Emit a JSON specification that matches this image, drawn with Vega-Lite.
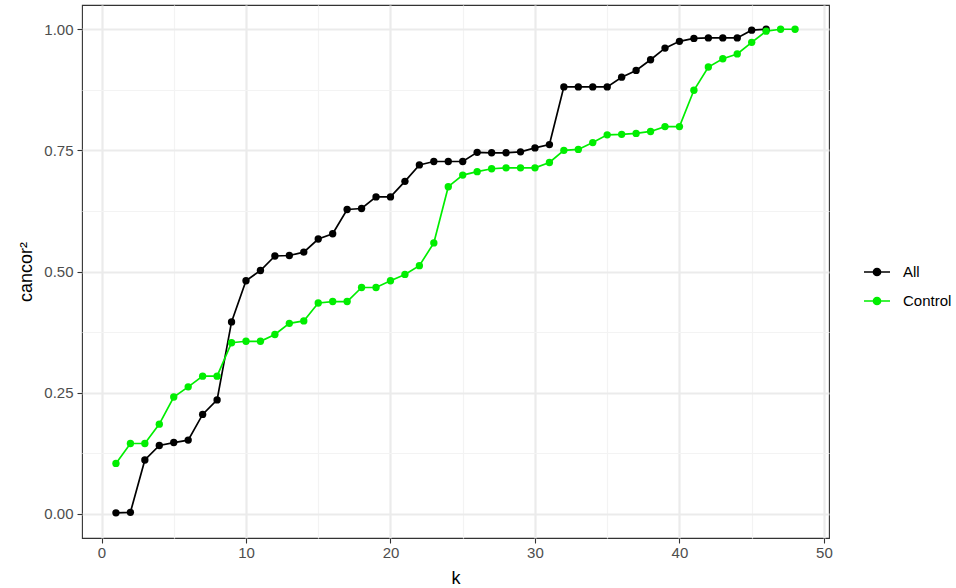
{
  "$schema": "https://vega.github.io/schema/vega-lite/v6.json",
  "width": 747,
  "height": 533,
  "autosize": {"type": "none"},
  "padding": {"left": 82, "top": 5, "right": 127, "bottom": 50},
  "background": "white",
  "config": {
    "font": "Liberation Sans",
    "view": {"stroke": "#333333", "strokeWidth": 1.1}
  },
  "data": {
    "values": [
      {"k": 1, "cancor2": 0.002, "set": "All"},
      {"k": 2, "cancor2": 0.003, "set": "All"},
      {"k": 3, "cancor2": 0.111, "set": "All"},
      {"k": 4, "cancor2": 0.141, "set": "All"},
      {"k": 5, "cancor2": 0.147, "set": "All"},
      {"k": 6, "cancor2": 0.152, "set": "All"},
      {"k": 7, "cancor2": 0.205, "set": "All"},
      {"k": 8, "cancor2": 0.235, "set": "All"},
      {"k": 9, "cancor2": 0.396, "set": "All"},
      {"k": 10, "cancor2": 0.481, "set": "All"},
      {"k": 11, "cancor2": 0.502, "set": "All"},
      {"k": 12, "cancor2": 0.532, "set": "All"},
      {"k": 13, "cancor2": 0.533, "set": "All"},
      {"k": 14, "cancor2": 0.540, "set": "All"},
      {"k": 15, "cancor2": 0.567, "set": "All"},
      {"k": 16, "cancor2": 0.578, "set": "All"},
      {"k": 17, "cancor2": 0.628, "set": "All"},
      {"k": 18, "cancor2": 0.630, "set": "All"},
      {"k": 19, "cancor2": 0.654, "set": "All"},
      {"k": 20, "cancor2": 0.654, "set": "All"},
      {"k": 21, "cancor2": 0.686, "set": "All"},
      {"k": 22, "cancor2": 0.720, "set": "All"},
      {"k": 23, "cancor2": 0.727, "set": "All"},
      {"k": 24, "cancor2": 0.727, "set": "All"},
      {"k": 25, "cancor2": 0.727, "set": "All"},
      {"k": 26, "cancor2": 0.746, "set": "All"},
      {"k": 27, "cancor2": 0.745, "set": "All"},
      {"k": 28, "cancor2": 0.745, "set": "All"},
      {"k": 29, "cancor2": 0.747, "set": "All"},
      {"k": 30, "cancor2": 0.755, "set": "All"},
      {"k": 31, "cancor2": 0.762, "set": "All"},
      {"k": 32, "cancor2": 0.881, "set": "All"},
      {"k": 33, "cancor2": 0.881, "set": "All"},
      {"k": 34, "cancor2": 0.881, "set": "All"},
      {"k": 35, "cancor2": 0.881, "set": "All"},
      {"k": 36, "cancor2": 0.901, "set": "All"},
      {"k": 37, "cancor2": 0.915, "set": "All"},
      {"k": 38, "cancor2": 0.937, "set": "All"},
      {"k": 39, "cancor2": 0.961, "set": "All"},
      {"k": 40, "cancor2": 0.975, "set": "All"},
      {"k": 41, "cancor2": 0.981, "set": "All"},
      {"k": 42, "cancor2": 0.982, "set": "All"},
      {"k": 43, "cancor2": 0.982, "set": "All"},
      {"k": 44, "cancor2": 0.982, "set": "All"},
      {"k": 45, "cancor2": 0.998, "set": "All"},
      {"k": 46, "cancor2": 1.0, "set": "All"},
      {"k": 1, "cancor2": 0.104, "set": "Control"},
      {"k": 2, "cancor2": 0.145, "set": "Control"},
      {"k": 3, "cancor2": 0.145, "set": "Control"},
      {"k": 4, "cancor2": 0.185, "set": "Control"},
      {"k": 5, "cancor2": 0.241, "set": "Control"},
      {"k": 6, "cancor2": 0.262, "set": "Control"},
      {"k": 7, "cancor2": 0.284, "set": "Control"},
      {"k": 8, "cancor2": 0.284, "set": "Control"},
      {"k": 9, "cancor2": 0.353, "set": "Control"},
      {"k": 10, "cancor2": 0.356, "set": "Control"},
      {"k": 11, "cancor2": 0.356, "set": "Control"},
      {"k": 12, "cancor2": 0.370, "set": "Control"},
      {"k": 13, "cancor2": 0.393, "set": "Control"},
      {"k": 14, "cancor2": 0.398, "set": "Control"},
      {"k": 15, "cancor2": 0.435, "set": "Control"},
      {"k": 16, "cancor2": 0.438, "set": "Control"},
      {"k": 17, "cancor2": 0.438, "set": "Control"},
      {"k": 18, "cancor2": 0.467, "set": "Control"},
      {"k": 19, "cancor2": 0.467, "set": "Control"},
      {"k": 20, "cancor2": 0.481, "set": "Control"},
      {"k": 21, "cancor2": 0.494, "set": "Control"},
      {"k": 22, "cancor2": 0.512, "set": "Control"},
      {"k": 23, "cancor2": 0.559, "set": "Control"},
      {"k": 24, "cancor2": 0.675, "set": "Control"},
      {"k": 25, "cancor2": 0.699, "set": "Control"},
      {"k": 26, "cancor2": 0.706, "set": "Control"},
      {"k": 27, "cancor2": 0.712, "set": "Control"},
      {"k": 28, "cancor2": 0.714, "set": "Control"},
      {"k": 29, "cancor2": 0.714, "set": "Control"},
      {"k": 30, "cancor2": 0.714, "set": "Control"},
      {"k": 31, "cancor2": 0.725, "set": "Control"},
      {"k": 32, "cancor2": 0.750, "set": "Control"},
      {"k": 33, "cancor2": 0.752, "set": "Control"},
      {"k": 34, "cancor2": 0.766, "set": "Control"},
      {"k": 35, "cancor2": 0.782, "set": "Control"},
      {"k": 36, "cancor2": 0.783, "set": "Control"},
      {"k": 37, "cancor2": 0.785, "set": "Control"},
      {"k": 38, "cancor2": 0.789, "set": "Control"},
      {"k": 39, "cancor2": 0.799, "set": "Control"},
      {"k": 40, "cancor2": 0.799, "set": "Control"},
      {"k": 41, "cancor2": 0.874, "set": "Control"},
      {"k": 42, "cancor2": 0.922, "set": "Control"},
      {"k": 43, "cancor2": 0.939, "set": "Control"},
      {"k": 44, "cancor2": 0.949, "set": "Control"},
      {"k": 45, "cancor2": 0.973, "set": "Control"},
      {"k": 46, "cancor2": 0.996, "set": "Control"},
      {"k": 47, "cancor2": 1.0, "set": "Control"},
      {"k": 48, "cancor2": 1.0, "set": "Control"}
    ]
  },
  "encoding": {
    "color": {
      "field": "set",
      "type": "nominal",
      "scale": {"domain": ["All", "Control"], "range": ["#000000", "#00EE00"]},
      "legend": {
        "title": null,
        "orient": "none",
        "legendX": 781,
        "legendY": 253,
        "symbolType": "M-1,0L1,0M0.27,0A0.27,0.27,0,1,1,-0.27,0A0.27,0.27,0,1,1,0.27,0Z",
        "symbolSize": 676,
        "symbolStrokeWidth": 1.7,
        "labelFontSize": 15,
        "labelColor": "#000000",
        "labelOffset": 12,
        "rowPadding": 7,
        "encode": {
          "symbols": {
            "update": {
              "fill": {"scale": "color", "field": "value"},
              "stroke": {"scale": "color", "field": "value"},
              "strokeWidth": {"value": 1.7},
              "opacity": {"value": 1}
            }
          }
        }
      }
    }
  },
  "layer": [
    {
      "mark": {"type": "line", "strokeWidth": 1.7},
      "encoding": {
        "x": {
          "field": "k",
          "type": "quantitative",
          "scale": {"domain": [-1.35, 50.35], "nice": false, "zero": false},
          "axis": {
            "orient": "top",
            "values": [5, 15, 25, 35, 45],
            "grid": true,
            "gridColor": "#F3F3F3",
            "gridWidth": 1.2,
            "labels": false,
            "ticks": false,
            "domain": false,
            "title": null
          }
        },
        "y": {
          "field": "cancor2",
          "type": "quantitative",
          "scale": {"domain": [-0.05, 1.05], "nice": false, "zero": false},
          "axis": {
            "orient": "right",
            "values": [0.125, 0.375, 0.625, 0.875],
            "grid": true,
            "gridColor": "#F3F3F3",
            "gridWidth": 1.2,
            "labels": false,
            "ticks": false,
            "domain": false,
            "title": null
          }
        }
      }
    },
    {
      "mark": {"type": "point", "filled": true, "size": 54, "opacity": 1},
      "encoding": {
        "x": {
          "field": "k",
          "type": "quantitative",
          "axis": {
            "orient": "bottom",
            "values": [0, 10, 20, 30, 40, 50],
            "format": "d",
            "grid": true,
            "gridColor": "#EBEBEB",
            "gridWidth": 2.2,
            "domain": false,
            "tickColor": "#333333",
            "tickSize": 5,
            "tickWidth": 1.1,
            "labelFontSize": 15,
            "labelColor": "#4D4D4D",
            "labelPadding": 2,
            "title": "k",
            "titleFontSize": 18,
            "titleFontWeight": "normal",
            "titleColor": "#000000",
            "titleBaseline": "alphabetic",
            "titleY": 45
          }
        },
        "y": {
          "field": "cancor2",
          "type": "quantitative",
          "axis": {
            "orient": "left",
            "values": [0, 0.25, 0.5, 0.75, 1],
            "format": ".2f",
            "grid": true,
            "gridColor": "#EBEBEB",
            "gridWidth": 2.2,
            "domain": false,
            "tickColor": "#333333",
            "tickSize": 5,
            "tickWidth": 1.1,
            "labelFontSize": 15,
            "labelColor": "#4D4D4D",
            "labelPadding": 4,
            "title": "cancor²",
            "titleFontSize": 18,
            "titleFontWeight": "normal",
            "titleColor": "#000000",
            "titleAngle": 270,
            "titleAlign": "center",
            "titleBaseline": "alphabetic",
            "titleX": -51,
            "titleY": 266.5
          }
        }
      }
    }
  ],
  "resolve": {"axis": {"x": "independent", "y": "independent"}}
}
